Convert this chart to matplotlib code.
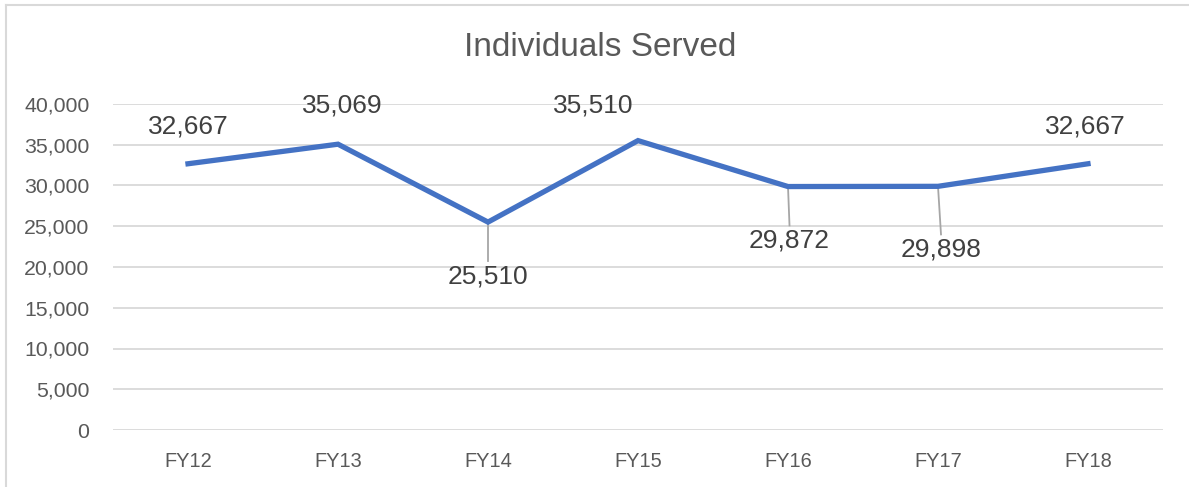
import matplotlib.pyplot as plt
from matplotlib.lines import Line2D

plt.rcParams['font.family'] = ['Liberation Sans', 'DejaVu Sans']

years = ['FY12', 'FY13', 'FY14', 'FY15', 'FY16', 'FY17', 'FY18']
served = [32667, 35069, 25510, 35510, 29872, 29898, 32667]
yticks = [0, 5000, 10000, 15000, 20000, 25000, 30000, 35000, 40000]

# label positions (x in category units, y in data units) and leader line flags
lab_x = [0.0, 1.03, 2.0, 2.7, 4.01, 5.02, 5.98]
lab_y = [37300, 39850, 18800, 39850, 23200, 22100, 37300]
leader = [False, False, True, False, True, True, False]

fig = plt.figure(figsize=(11.89, 4.87), dpi=100)
ax = fig.add_axes([113 / 1189, 1 - 430 / 487, 1050 / 1189, 326 / 487])

x = list(range(len(years)))
ax.plot(x, served, color='#4472C4', lw=3.8, solid_joinstyle='miter', zorder=3)

for i, v in enumerate(served):
    ax.text(lab_x[i], lab_y[i], f'{v:,}', ha='center', va='center',
            fontsize=19, color='#404040', zorder=4)
    if leader[i]:
        ax.plot([i, lab_x[i]], [v, lab_y[i] + 1900], color='#a6a6a6', lw=1.3, zorder=2)

ax.set_xlim(-0.5, 6.5)
ax.set_ylim(0, 40000)
ax.set_xticks(x)
ax.set_xticklabels(years)
ax.set_yticks(yticks)
ax.set_yticklabels([f'{t:,}' for t in yticks])
ax.tick_params(axis='both', length=0, colors='#595959', labelsize=15.3)
ax.tick_params(axis='x', pad=16, labelsize=14.4)
ax.tick_params(axis='y', pad=17)
ax.grid(axis='y', color='#d9d9d9', lw=1.3)
ax.set_axisbelow(True)
for s in ax.spines.values():
    s.set_visible(False)

fig.text(600 / 1189, 1 - 48 / 487, 'Individuals Served', ha='center', va='center',
         fontsize=24, color='#595959')

# chart border
fig.add_artist(Line2D([6 / 1189, 1], [1 - 5 / 487, 1 - 5 / 487], color='#d9d9d9', lw=1.5))
fig.add_artist(Line2D([6 / 1189, 6 / 1189], [0, 1 - 5 / 487], color='#d9d9d9', lw=1.5))

fig.savefig('out.png', dpi=100)
